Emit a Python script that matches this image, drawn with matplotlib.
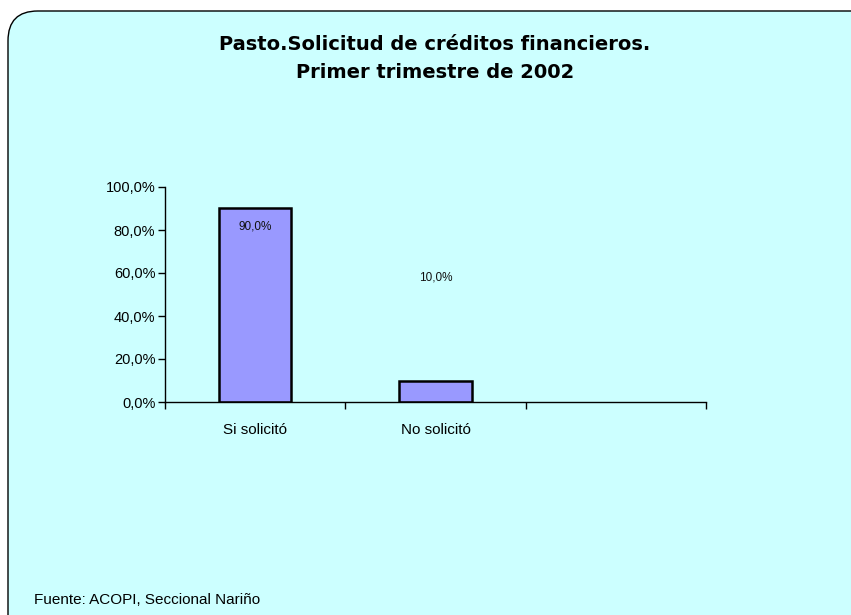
import matplotlib
matplotlib.use("Agg")
import matplotlib.pyplot as plt
from matplotlib.patches import FancyBboxPatch
from matplotlib.ticker import FuncFormatter

categories = ["Si solicitó", "No solicitó", ""]
values = [90.0, 10.0, None]
labels = ["90,0%", "10,0%"]
label_y = [81.5, 58.0]
yticks = [0, 20, 40, 60, 80, 100]

plt.rcParams['font.family'] = ['Liberation Sans', 'DejaVu Sans']

fig = plt.figure(figsize=(8.51, 6.15), dpi=100)
fig.patch.set_facecolor('white')

bg = FancyBboxPatch((8/851, -0.2), 1.2, (1 - 11/615) + 0.2,
                    boxstyle="round,pad=0,rounding_size=0.035",
                    transform=fig.transFigure, facecolor='#CCFFFF',
                    edgecolor='black', linewidth=1.0, mutation_aspect=851/615,
                    zorder=-5)
fig.patches.append(bg)

ax = fig.add_axes([165/851, 1 - 402/615, (706 - 165)/851, (402 - 187)/615])
ax.set_facecolor('none')
ax.set_zorder(2)

xs = list(range(len(categories)))
for x, v in zip(xs, values):
    if v is not None:
        ax.bar(x, v, width=0.4, color='#9999FF', edgecolor='black', linewidth=1.8, zorder=2)

for x, t, yy in zip(xs, labels, label_y):
    ax.text(x, yy, t, ha='center', va='center', fontsize=8.5, color='#111111')

ax.set_xlim(-0.5, len(categories) - 0.5)
ax.set_ylim(0, 100)
ax.set_yticks(yticks)
ax.yaxis.set_major_formatter(FuncFormatter(lambda v, p: f"{v:.1f}%".replace('.', ',')))
ax.tick_params(axis='y', length=5, width=1, labelsize=10.5, pad=2, direction='out')

ax.set_xticks([x + 0.5 for x in [-1] + xs])
ax.set_xticklabels([])
ax.set_xticks(xs, minor=True)
ax.set_xticklabels(categories, minor=True)
ax.tick_params(axis='x', which='major', length=5, width=1, direction='out')
ax.tick_params(axis='x', which='minor', length=0, labelsize=11, pad=15)

for s in ['top', 'right']:
    ax.spines[s].set_visible(False)
ax.spines['left'].set_linewidth(1)
ax.spines['bottom'].set_linewidth(1)

fig.text(435/851, 1 - 45/615, "Pasto.Solicitud de créditos financieros.", ha='center', va='center',
         fontsize=14, fontweight='bold', family=['DejaVu Sans'])
fig.text(435/851, 1 - 73/615, "Primer trimestre de 2002", ha='center', va='center',
         fontsize=14, fontweight='bold', family=['DejaVu Sans'])

fig.text(34/851, 1 - 600/615, "Fuente: ACOPI, Seccional Nariño", ha='left', va='center', fontsize=11)

fig.savefig("out.png", dpi=100)
